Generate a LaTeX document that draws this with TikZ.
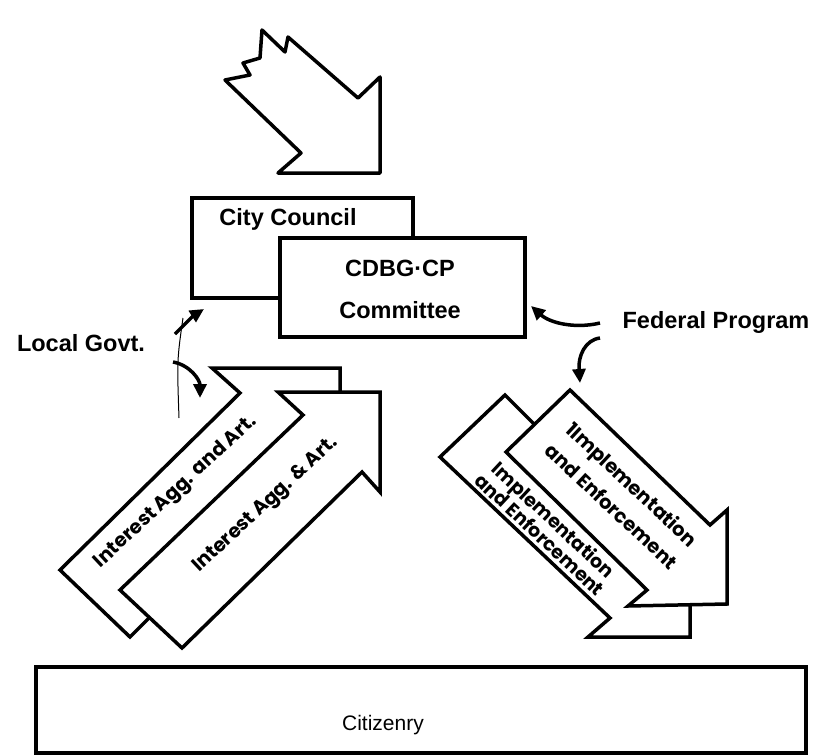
\documentclass[tikz,border=0pt]{standalone}
\usepackage{fontspec}
\setmainfont{Liberation Sans}
\newfontfamily\geofont{Poppins}
\usetikzlibrary{arrows.meta}

\tikzset{
  outline/.style={draw=black, line width=3.5pt, fill=white, line join=miter},
  boxlabel/.style={font=\fontsize{23.5}{27}\selectfont\bfseries},
  bandlabel/.style={font=\geofont\fontsize{19.5}{30}\selectfont\bfseries, align=center},
  tightlabel/.style={font=\geofont\fontsize{19}{20}\selectfont\bfseries, align=center},
  handarrow/.style={line width=3.5pt, -{Triangle[length=14pt,width=13pt]}},
}

\begin{document}
\begin{tikzpicture}[x=1pt,y=-1pt]
	\useasboundingbox (0,0) rectangle (817,755);

	% top arrow with the broken tail
	\draw[outline, line join=round] (225,80) -- (301,153) -- (278,173) -- (380,173) -- (380,77) -- (358,98)
	  -- (288,37) -- (285,52) -- (262,30) -- (260,58) -- (243,63) -- (250,75) -- cycle;

	\draw[outline] (192,198) rectangle (413,298);
	\draw[outline] (280,238) rectangle (525,337);
	\node[boxlabel] (council) at (288,219) {City Council};
	\node[boxlabel] (cdbg) at (400,268) {CDBG·CP};
	\node[boxlabel] (committee) at (400,310) {Committee};

	\node[boxlabel] (localgovt) at (81,343) {Local Govt.};
	\node[boxlabel] (federal) at (716,322) {Federal Program};

	% left pair, pointing up
	\draw[outline] (60,570) -- (240,393) -- (212,368) -- (340,368) -- (340,477) -- (315,452) -- (130,637) -- cycle;
	\node[bandlabel, rotate=43] (aggback) at (176,492) {Interest Agg. and Art.};
	\draw[outline] (120,590) -- (303,415) -- (278,392) -- (380,392) -- (380,492) -- (362,472) -- (182,648) -- cycle;
	\node[bandlabel, rotate=43] (aggfront) at (266,505) {Interest Agg. \& Art.};

	% right pair, pointing down
	\draw[outline] (505,395) -- (670,560) -- (690,535) -- (690,637) -- (588,637) -- (610,618) -- (440,457) -- cycle;
	\node[tightlabel, rotate=-43] (implback) at (547,527) {Implementation\\and Enforcement};
	\draw[outline] (570,390) -- (710,525) -- (727,510) -- (727,604) -- (628,606) -- (647,590) -- (506,452) -- cycle;
	\node[bandlabel, rotate=-43] (implfront) at (622,495) {1Implementation\\and Enforcement};

	\draw[outline] (36,667) rectangle (806,753);
	\node[font=\fontsize{21}{24}\selectfont] (citizenry) at (383,725) {Citizenry};

	\coordinate (lgtop) at (175,334);
	\coordinate (lgtoptip) at (204,309);
	\coordinate (lgbot) at (173,362);
	\coordinate (lgbottip) at (200,398);
	\coordinate (fptop) at (600,323);
	\coordinate (fptoptip) at (531,306);
	\coordinate (fpbot) at (600,338);
	\coordinate (fpbottip) at (580,383);
	\coordinate (stroke1) at (183,318);
	\coordinate (stroke2) at (179,418);

	\draw[handarrow] (lgtop) .. controls (186,323) and (193,316) .. (lgtoptip);
	\draw[handarrow] (lgbot) .. controls (190,365) and (200,380) .. (lgbottip);
	\draw[line width=1pt] (stroke1) .. controls (177,360) .. (stroke2);
	\draw[handarrow] (fptop) .. controls (575,329) and (550,323) .. (fptoptip);
	\draw[handarrow] (fpbot) .. controls (585,340) and (578,356) .. (fpbottip);
\end{tikzpicture}
\end{document}
